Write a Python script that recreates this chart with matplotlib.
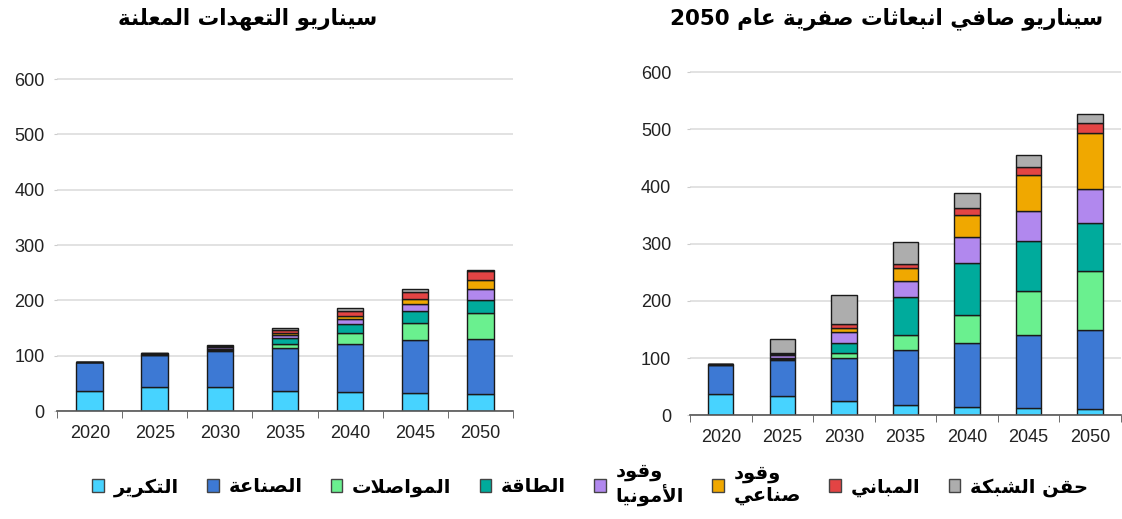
import re
import matplotlib
matplotlib.use("Agg")
import matplotlib.pyplot as plt
from matplotlib.patches import Patch

# --- minimal arabic shaping (matplotlib has no complex text layout) ---
_letters = "ءآأؤإئابةتثجحخدذرزسشصضطظعغفقكلمنهوىي"
_counts = [1, 2, 2, 2, 2, 4, 2, 4, 2, 4, 4, 4, 4, 4, 2, 2, 2, 2, 4, 4, 4, 4,
           4, 4, 4, 4, 4, 4, 4, 4, 4, 4, 4, 2, 2, 4]
FORMS = {}
code = 0xFE80
for ch, n in zip(_letters, _counts):
    FORMS[ch] = [chr(code + k) for k in range(n)]
    code += n
LAMALEF = {"آ": ["\uFEF5", "\uFEF6"], "أ": ["\uFEF7", "\uFEF8"],
           "إ": ["\uFEF9", "\uFEFA"], "ا": ["\uFEFB", "\uFEFC"]}


def shape(text):
    toks = []
    i = 0
    while i < len(text):
        c = text[i]
        if c == "ل" and i + 1 < len(text) and text[i + 1] in LAMALEF:
            toks.append(LAMALEF[text[i + 1]])
            i += 2
        else:
            toks.append(FORMS.get(c, c))
            i += 1
    out = []
    for k, t in enumerate(toks):
        if isinstance(t, str):
            out.append(t)
            continue
        prev = toks[k - 1] if k > 0 else None
        nxt = toks[k + 1] if k + 1 < len(toks) else None
        jp = isinstance(prev, list) and len(prev) == 4
        jn = isinstance(nxt, list) and len(t) == 4
        if jp and jn:
            out.append(t[3])
        elif jn:
            out.append(t[2])
        elif jp:
            out.append(t[1])
        else:
            out.append(t[0])
    vis = "".join(out)[::-1]
    return re.sub(r"\d+", lambda m: m.group(0)[::-1], vis)


def ar(text):
    return "\n".join(shape(line) for line in text.split("\n"))


years = ["2020", "2025", "2030", "2035", "2040", "2045", "2050"]

series_names = ["التكرير", "الصناعة", "المواصلات", "الطاقة", "وقود\nالأمونيا",
                "وقود\nصناعي", "المباني", "حقن الشبكة"]
colors = ["#47D3FF", "#3D79D4", "#6AF08F", "#00AB9C", "#B188EE", "#F0A800",
          "#E34444", "#ADADAD"]

# announced pledges scenario
refining_aps = [37, 43, 43, 36, 34, 32, 31]
industry_aps = [51, 58, 65, 78, 87, 96, 100]
transport_aps = [0.3, 0.8, 2.5, 7.5, 20.5, 31, 47]
power_aps = [0.3, 0.8, 2.5, 10.5, 16, 21, 23]
ammonia_aps = [0.3, 0.8, 2, 5, 9, 13, 19]
fuel_aps = [0.2, 0.8, 1.5, 4, 6, 10, 17]
buildings_aps = [0.2, 0.8, 1.5, 5, 9, 13, 17]
grid_aps = [0.2, 0.5, 1, 4, 4, 4, 1]

# net zero emissions scenario
refining_nze = [37.8, 33.7, 25.6, 18.6, 15, 12, 10]
industry_nze = [50.6, 63.3, 75, 95.9, 112, 129, 139]
transport_nze = [0.2, 1, 8.7, 25.5, 48, 77, 104]
power_nze = [0.2, 2, 17.4, 66, 91, 86, 84]
ammonia_nze = [0.2, 6, 18.6, 28, 46, 53, 59]
fuel_nze = [0.2, 1, 7, 23, 39, 62.6, 98]
buildings_nze = [0.2, 1, 6.4, 7.5, 12, 14.4, 17]
grid_nze = [0.2, 25.7, 51.8, 38.5, 25, 20.5, 16]

aps = [refining_aps, industry_aps, transport_aps, power_aps, ammonia_aps,
       fuel_aps, buildings_aps, grid_aps]
nze = [refining_nze, industry_nze, transport_nze, power_nze, ammonia_nze,
       fuel_nze, buildings_nze, grid_nze]

yticks = [0, 100, 200, 300, 400, 500, 600]

fig = plt.figure(figsize=(11.22, 5.19), dpi=100)
ax1 = fig.add_axes([0.051, 0.208, 0.406, 0.661])
ax2 = fig.add_axes([0.615, 0.200, 0.384, 0.683])

x = list(range(len(years)))
for ax, data, pad in [(ax1, aps, 7), (ax2, nze, 11.5)]:
    bottom = [0] * len(years)
    for vals, col in zip(data, colors):
        ax.bar(x, vals, width=0.41, bottom=bottom, color=col,
               edgecolor="#1a1a1a", linewidth=1.0, zorder=3)
        bottom = [b + v for b, v in zip(bottom, vals)]
    ax.set_xlim(-0.5, 6.5)
    ax.set_ylim(0, 620)
    ax.set_yticks(yticks)
    ax.set_xticks(x)
    ax.set_xticklabels(years)
    ax.set_xticks([i - 0.5 for i in range(8)], minor=True)
    ax.tick_params(axis="x", which="major", length=0, pad=10,
                   labelsize=13, labelcolor="#222222")
    ax.tick_params(axis="x", which="minor", length=5, color="#555555",
                   direction="out")
    ax.tick_params(axis="y", length=2, color="#cccccc", pad=pad,
                   labelsize=13, labelcolor="#222222")
    for lab in ax.get_xticklabels() + ax.get_yticklabels():
        lab.set_fontfamily("Liberation Sans")
    ax.grid(axis="y", color="#dddddd", linewidth=1.2, zorder=0)
    for s in ["top", "right", "left"]:
        ax.spines[s].set_visible(False)
    ax.spines["bottom"].set_color("#555555")
    ax.spines["bottom"].set_linewidth(1.2)
    ax.spines["bottom"].set_zorder(4)

fig.text(0.221, 0.965, ar("سيناريو التعهدات المعلنة"), ha="center",
         va="center", fontsize=15.5, fontweight="bold", family="DejaVu Sans")
fig.text(0.79, 0.965, ar("سيناريو صافي انبعاثات صفرية عام 2050"),
         ha="center", va="center", fontsize=15.5, fontweight="bold",
         family="DejaVu Sans")

handles = [Patch(facecolor=c, edgecolor="#444444", linewidth=1) for c in colors]
fig.legend(handles, [ar(n) for n in series_names], loc="center",
           bbox_to_anchor=(0.526, 0.066), ncol=8, frameon=False,
           prop={"family": "DejaVu Sans", "weight": "bold", "size": 14},
           handlelength=0.6, handleheight=0.6, handletextpad=0.5,
           columnspacing=1.45)

fig.savefig("out.png", dpi=100)
